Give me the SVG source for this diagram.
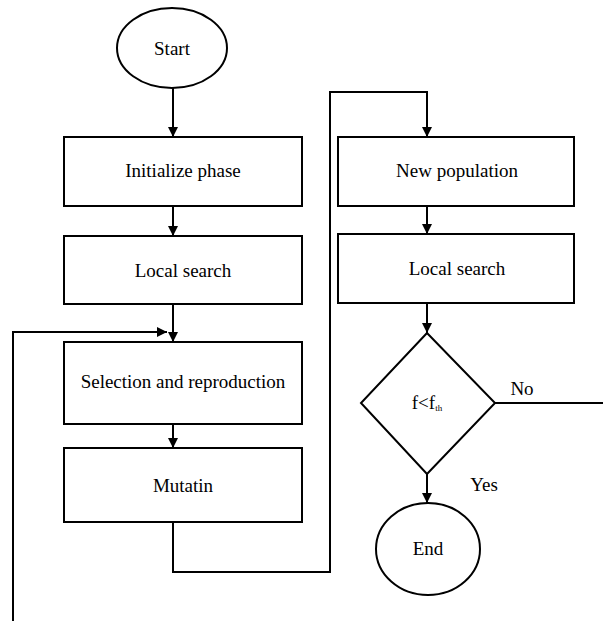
<svg xmlns="http://www.w3.org/2000/svg" width="603" height="621" viewBox="0 0 603 621">
<style>
.s{fill:#fff;stroke:#000;stroke-width:2}
.c{fill:none;stroke:#000;stroke-width:2}
</style>
<defs>
<marker id="ah" viewBox="0 0 10 10" refX="10" refY="5" markerWidth="5" markerHeight="5" markerUnits="strokeWidth" orient="auto">
<path d="M0,0 L10,5 L0,10 z" fill="#000"/>
</marker>
</defs>
<rect width="603" height="621" fill="#fff"/>
<g font-family="'Liberation Serif', 'Times New Roman', 'DejaVu Serif', serif" font-size="19" text-anchor="middle" fill="#000">
<g id="start"><ellipse class="s" cx="172" cy="48" rx="55" ry="40"/><text x="172" y="55">Start</text></g>
<g id="init"><rect class="s" x="64" y="137" width="238" height="69"/><text x="183" y="177">Initialize phase</text></g>
<g id="local1"><rect class="s" x="64" y="236" width="238" height="68"/><text x="183" y="277">Local search</text></g>
<g id="selection"><rect class="s" x="64" y="342" width="238" height="82"/><text x="183" y="388">Selection and reproduction</text></g>
<g id="mutatin"><rect class="s" x="64" y="448" width="238" height="74"/><text x="183" y="492">Mutatin</text></g>
<g id="newpop"><rect class="s" x="338" y="137" width="236" height="69"/><text x="457" y="177">New population</text></g>
<g id="local2"><rect class="s" x="338" y="234" width="236" height="69"/><text x="457" y="275">Local search</text></g>
<g id="decision"><polygon class="s" points="427,333 495,403 427,474 361,403"/><text x="427" y="409">f&lt;f<tspan font-size="9" dy="2">th</tspan></text></g>
<g id="end"><ellipse class="s" cx="428" cy="549" rx="52" ry="46"/><text x="428" y="555">End</text></g>
<g id="connectors">
<line class="c" x1="173" y1="88" x2="173" y2="137" marker-end="url(#ah)"/>
<line class="c" x1="173" y1="206" x2="173" y2="236" marker-end="url(#ah)"/>
<line class="c" x1="173" y1="304" x2="173" y2="342" marker-end="url(#ah)"/>
<polyline class="c" points="13,621 13,332 167,332" marker-end="url(#ah)"/>
<line class="c" x1="173" y1="424" x2="173" y2="448" marker-end="url(#ah)"/>
<polyline class="c" points="173,522 173,572 330,572 330,92 427,92 427,137" marker-end="url(#ah)"/>
<line class="c" x1="427" y1="206" x2="427" y2="234" marker-end="url(#ah)"/>
<line class="c" x1="427" y1="303" x2="427" y2="333" marker-end="url(#ah)"/>
<line class="c" x1="427" y1="474" x2="427" y2="503" marker-end="url(#ah)"/>
<line class="c" x1="495" y1="403" x2="603" y2="403"/>
<text x="522" y="395">No</text>
<text x="484" y="491">Yes</text>
</g>
</g>
</svg>
